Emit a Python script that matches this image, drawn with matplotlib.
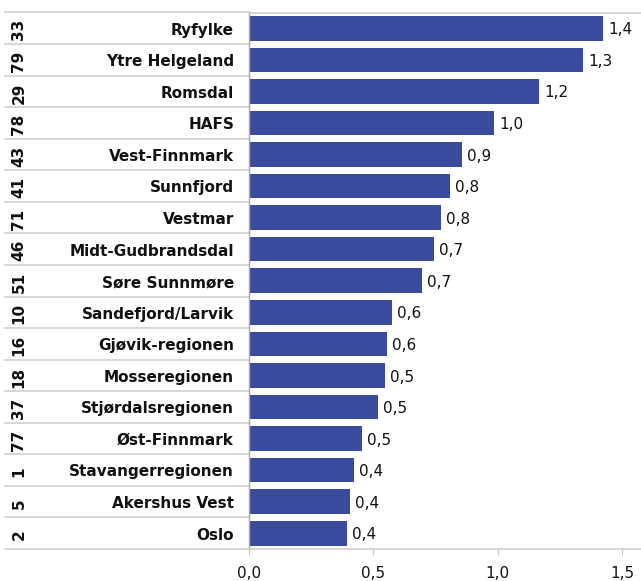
import matplotlib
matplotlib.use("Agg")
import matplotlib.pyplot as plt
from matplotlib.transforms import blended_transform_factory

plt.rcParams['font.family'] = ['DejaVu Sans']

names = ["Ryfylke", "Ytre Helgeland", "Romsdal", "HAFS", "Vest-Finnmark", "Sunnfjord",
         "Vestmar", "Midt-Gudbrandsdal", "Søre Sunnmøre", "Sandefjord/Larvik",
         "Gjøvik-regionen", "Mosseregionen", "Stjørdalsregionen", "Øst-Finnmark",
         "Stavangerregionen", "Akershus Vest", "Oslo"]
ranks = ["33", "79", "29", "78", "43", "41", "71", "46", "51", "10", "16", "18", "37", "77", "1", "5", "2"]
values = [1.423, 1.343, 1.166, 0.985, 0.856, 0.808, 0.772, 0.744, 0.696, 0.575,
          0.556, 0.547, 0.519, 0.455, 0.422, 0.406, 0.394]
xticks = [0.0, 0.5, 1.0, 1.5]
xtick_labels = ["0,0", "0,5", "1,0", "1,5"]

W, H = 641, 581
fig = plt.figure(figsize=(W / 100, H / 100), dpi=100)
left = 249 / W
bottom = 1 - 549 / H
top = 1 - 12.5 / H
ax = fig.add_axes([left, bottom, 1 - left, top - bottom])

n = len(names)
ypos = list(range(n))
bar_color = "#3A4A9D"
ax.barh(ypos, values, height=0.78, color=bar_color, zorder=2)
ax.set_ylim(n - 0.5, -0.5)
ax.set_xlim(0, (W - 249) / 248.7)

for y, v in zip(ypos, values):
    ax.text(v + 0.02, y + 0.05, f"{v:.1f}".replace(".", ","), va="center", ha="left",
            fontsize=11, color="#111111")

ax.set_yticks([])
ax.set_xticks(xticks)
ax.set_xticklabels(xtick_labels, fontsize=11)
ax.tick_params(axis="x", length=4, color="#C8C8C8", pad=8, labelcolor="#111111")

for s in ["top", "bottom"]:
    ax.spines[s].set_color("#D0D0D0")
    ax.spines[s].set_linewidth(1.2)
ax.spines["right"].set_visible(False)
ax.spines["left"].set_color("#A8A8B8")
ax.spines["left"].set_linewidth(1.0)

trans = blended_transform_factory(fig.transFigure, ax.transData)
x0 = 5 / W
for i in range(n + 1):
    ax.plot([x0, left], [i - 0.5, i - 0.5], transform=trans, color="#D0D0D0",
            lw=1.2, clip_on=False, zorder=1)

for y, nm, rk in zip(ypos, names, ranks):
    ax.text(234 / W, y + 0.06, nm, transform=trans, ha="right", va="center",
            fontsize=11, fontweight="bold", color="#111111")
    ax.text(19 / W, y + 0.05, rk, transform=trans, ha="center", va="center",
            rotation=90, fontsize=11, fontweight="bold", color="#111111")

fig.savefig("out.png", dpi=100)
